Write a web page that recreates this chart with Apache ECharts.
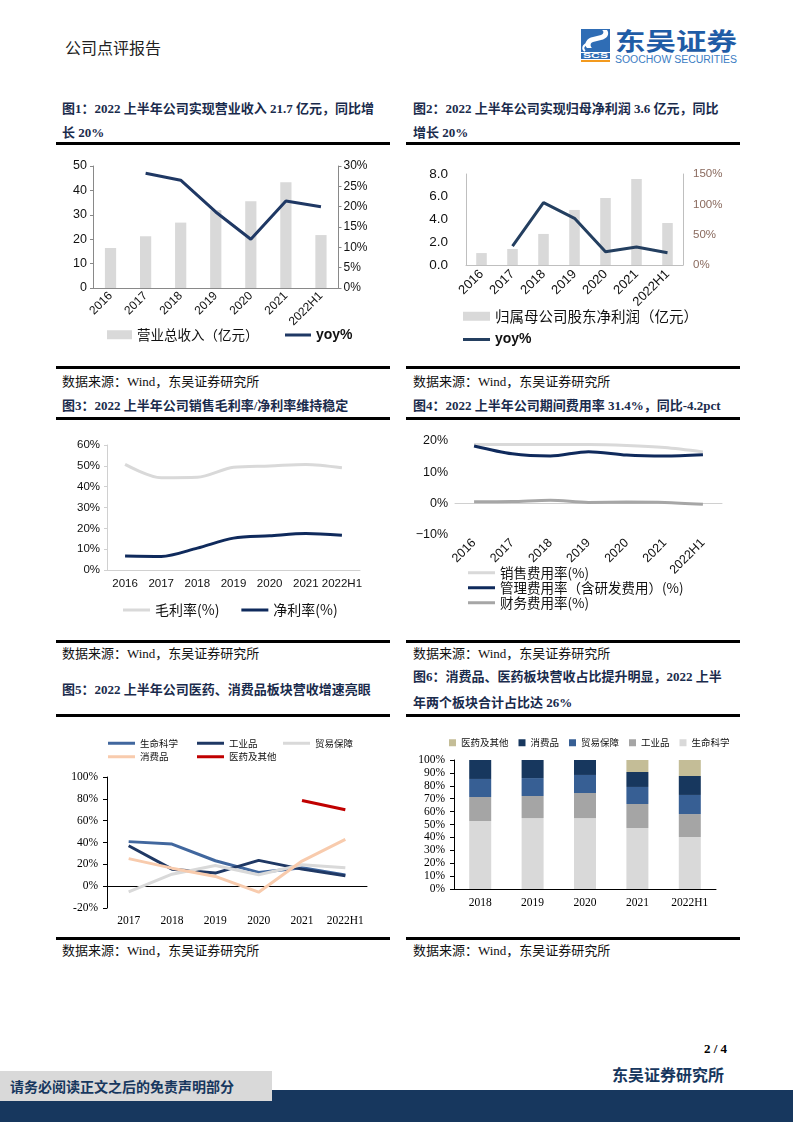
<!DOCTYPE html>
<html><head><meta charset="utf-8">
<script src="https://cdn.jsdelivr.net/npm/echarts@6/dist/echarts.min.js"></script>
<style>
html,body{margin:0;padding:0;}
body{width:793px;height:1122px;position:relative;background:#fff;overflow:hidden;font-family:"Liberation Serif","Noto Sans CJK SC",serif;}
.abs{position:absolute;white-space:nowrap;}
.title{position:absolute;white-space:nowrap;font-weight:bold;color:#1a2b4c;font-size:13px;line-height:24px;}
.src{position:absolute;white-space:nowrap;font-size:13px;color:#111;line-height:18px;}
.rule{position:absolute;height:2.5px;background:#000;}
.chart{position:absolute;}
</style></head><body>

<div class="abs" style="left:65px;top:37px;font-size:16px;line-height:20px;color:#222;font-family:'Noto Sans CJK SC';">公司点评报告</div>
<svg class="abs" style="left:581px;top:29px;" width="160" height="38" viewBox="0 0 160 38">
  <rect x="0" y="0" width="29" height="23" fill="#2f6db5"/>
  <path d="M6 19 C2 15 6 9 12 8 L20 6 C23 5 23 2 21 1 L26 1 C29 5 26 10 20 11 L12 13 C9 14 9 17 11 19 Z" fill="#fff"/>
  <path d="M4 22 C1 20 2 16 6 15" stroke="#fff" stroke-width="2" fill="none"/>
  <rect x="0" y="24" width="29" height="6" fill="#2f6db5"/>
  <text x="14.5" y="29.3" font-family="Liberation Sans" font-weight="bold" font-size="6.5" fill="#fff" text-anchor="middle" textLength="25" lengthAdjust="spacingAndGlyphs">SCS</text>
  <rect x="0" y="31" width="29" height="2" fill="#f39a1e"/>
  <text x="34" y="21" font-family="Noto Sans CJK SC" font-weight="bold" font-size="24" fill="#1f5ca6" textLength="122" lengthAdjust="spacingAndGlyphs">东吴证券</text>
  <text x="34" y="34" font-family="Liberation Sans" font-size="10" fill="#3b7cc3" textLength="122" lengthAdjust="spacingAndGlyphs">SOOCHOW SECURITIES</text>
</svg>

<div class="title" style="left:62px;top:97px;">图1：2022 上半年公司实现营业收入 21.7 亿元，同比增<br>长 20%</div>
<div class="title" style="left:413px;top:97px;">图2：2022 上半年公司实现归母净利润 3.6 亿元，同比<br>增长 20%</div>
<div class="rule" style="left:56px;top:142px;width:334px;"></div>
<div class="rule" style="left:406px;top:142px;width:334px;"></div>

<div class="rule" style="left:56px;top:366px;width:334px;"></div>
<div class="rule" style="left:406px;top:366px;width:334px;"></div>
<div class="src" style="left:62px;top:373px;">数据来源：Wind，东吴证券研究所</div>
<div class="src" style="left:413px;top:373px;">数据来源：Wind，东吴证券研究所</div>
<div class="title" style="left:62px;top:394px;">图3：2022 上半年公司销售毛利率/净利率维持稳定</div>
<div class="title" style="left:413px;top:394px;">图4：2022 上半年公司期间费用率 31.4%，同比-4.2pct</div>
<div class="rule" style="left:56px;top:417px;width:334px;"></div>
<div class="rule" style="left:406px;top:417px;width:334px;"></div>

<div class="rule" style="left:56px;top:640px;width:334px;"></div>
<div class="rule" style="left:406px;top:640px;width:334px;"></div>
<div class="src" style="left:62px;top:645px;">数据来源：Wind，东吴证券研究所</div>
<div class="src" style="left:413px;top:645px;">数据来源：Wind，东吴证券研究所</div>
<div class="title" style="left:62px;top:678px;">图5：2022 上半年公司医药、消费品板块营收增速亮眼</div>
<div class="title" style="left:413px;top:664px;line-height:26px;">图6：消费品、医药板块营收占比提升明显，2022 上半<br>年两个板块合计占比达 26%</div>
<div class="rule" style="left:56px;top:714px;width:334px;"></div>
<div class="rule" style="left:406px;top:714px;width:334px;"></div>

<div class="rule" style="left:56px;top:937px;width:334px;"></div>
<div class="rule" style="left:406px;top:937px;width:334px;"></div>
<div class="src" style="left:62px;top:942px;">数据来源：Wind，东吴证券研究所</div>
<div class="src" style="left:413px;top:942px;">数据来源：Wind，东吴证券研究所</div>

<div id="c1" class="chart" style="left:56px;top:145px;width:334px;height:221px;"></div>
<div id="c2" class="chart" style="left:406px;top:145px;width:334px;height:221px;"></div>
<div id="c3" class="chart" style="left:56px;top:420px;width:334px;height:220px;"></div>
<div id="c4" class="chart" style="left:406px;top:420px;width:334px;height:220px;"></div>
<div id="c5" class="chart" style="left:56px;top:717px;width:334px;height:220px;"></div>
<div id="c6" class="chart" style="left:406px;top:717px;width:334px;height:220px;"></div>

<div class="abs" style="left:704px;top:1040px;font-size:13px;line-height:18px;font-weight:bold;color:#000;">2 / 4</div>
<div class="abs" style="left:612px;top:1064px;font-size:16px;line-height:20px;font-weight:bold;color:#17375e;font-family:'Noto Sans CJK SC';">东吴证券研究所</div>
<div class="abs" style="left:0;top:1090px;width:793px;height:32px;background:#17375e;"></div>
<div class="abs" style="left:0;top:1071px;width:272px;height:30px;background:#d9d9d9;"></div>
<div class="abs" style="left:10px;top:1076px;font-size:14px;line-height:20px;font-weight:bold;color:#17375e;font-family:'Noto Sans CJK SC';">请务必阅读正文之后的免责声明部分</div>

<script>
// ---------- data ----------
const years7 = ['2016','2017','2018','2019','2020','2021','2022H1'];
// Fig1
const revenue = [16.4, 21.2, 26.8, 31.9, 35.6, 43.3, 21.7];
const revenueYoy = [null, 28.2, 26.5, 18.7, 12.0, 21.4, 20.0];
// Fig2
const netProfit = [1.05, 1.41, 2.73, 4.84, 5.89, 7.56, 3.69];
const netProfitYoy = [null, 31.3, 102.7, 76.9, 22.0, 29.7, 20.3];
// Fig3
const grossMargin = [50.7, 44.3, 44.5, 49.3, 49.9, 50.7, 49.1];
const netMargin = [6.7, 6.5, 10.5, 15.3, 16.4, 17.5, 16.7];
// Fig4
const salesExpRate = [18.9, 18.9, 18.9, 18.9, 18.6, 17.9, 16.5];
const mgmtExpRate = [18.4, 15.9, 15.2, 16.6, 15.5, 15.2, 15.6];
const finExpRate = [0.6, 0.7, 1.1, 0.4, 0.5, 0.4, -0.2];
// Fig5
const years6 = ['2017','2018','2019','2020','2021','2022H1'];
const growthLife = [40.8, 38.6, 23.3, 12.6, 16.9, 10.3];
const growthIndustrial = [37.0, 15.6, 12.0, 23.6, 15.6, 9.5];
const growthTrade = [-5.2, 11.0, 19.0, 10.4, 19.6, 16.9];
const growthConsumer = [25.2, 16.5, 8.9, -5.5, 23.0, 42.9];
const growthPharma = [null, null, null, null, 78.5, 70.0];
// Fig6
const years5 = ['2018','2019','2020','2021','2022H1'];
const shareLife = [52.7, 55.0, 55.0, 47.3, 40.3];
const shareIndustrial = [18.6, 17.1, 19.4, 18.6, 17.8];
const shareTrade = [14.0, 13.9, 14.0, 13.2, 14.8];
const shareConsumer = [14.7, 14.0, 11.6, 11.6, 14.7];
const sharePharma = [0, 0, 0, 9.3, 12.4];

// ---------- helpers ----------
function box(id){const el=document.getElementById(id);return {x:el.offsetLeft,y:el.offsetTop,w:el.offsetWidth,h:el.offsetHeight};}
function grid(b,l,t,r,btm){return {left:l-b.x,top:t-b.y,right:b.x+b.w-r,bottom:b.y+b.h-btm,containLabel:false};}
const SANS='Liberation Sans, Noto Sans CJK SC, sans-serif';
const SERIF='Liberation Serif, Noto Sans CJK SC, serif';
const CJK='Noto Sans CJK SC, sans-serif';
const navy='#1f3864';
const yoyRich={fontFamily:CJK,fontSize:13.5,color:'#111',rich:{e:{fontFamily:SANS,fontSize:14,fontWeight:'bold',color:'#111'}}};

// ---------- Fig1 ----------
(function(){
  const b=box('c1'); const ch=echarts.init(document.getElementById('c1'));
  const axc='#898989';
  ch.setOption({
    animation:false,
    textStyle:{fontFamily:SANS},
    grid:grid(b,93,166,338.5,288),
    legend:[
      {padding:0,left:107-b.x,top:328-b.y,itemWidth:25,itemHeight:9,icon:'rect',
        textStyle:{fontFamily:CJK,fontSize:13.5,color:'#111'},data:['营业总收入（亿元）']},
      {padding:0,left:285-b.x,top:328-b.y,itemWidth:26,itemHeight:3,icon:'rect',
        textStyle:yoyRich,formatter:()=>'{e|yoy%}',data:['yoy%']}
    ],
    xAxis:{type:'category',data:years7,
      axisLine:{lineStyle:{color:axc}},axisTick:{length:4,lineStyle:{color:axc}},
      axisLabel:{rotate:45,fontSize:12,color:'#111',margin:6,interval:0}},
    yAxis:[
      {type:'value',min:0,max:50,interval:10,axisLine:{show:true,lineStyle:{color:axc}},axisTick:{show:true,length:3,lineStyle:{color:axc}},
        splitLine:{show:false},axisLabel:{fontSize:12.5,color:'#111',margin:6}},
      {type:'value',min:0,max:30,interval:5,position:'right',axisLine:{show:true,lineStyle:{color:axc}},axisTick:{show:true,length:3,lineStyle:{color:axc}},
        splitLine:{show:false},axisLabel:{fontSize:12,color:'#111',margin:5,formatter:'{value}%'}}
    ],
    series:[
      {type:'bar',name:'营业总收入（亿元）',data:revenue,barWidth:'32%',itemStyle:{color:'#d9d9d9'}},
      {type:'line',name:'yoy%',yAxisIndex:1,data:revenueYoy,symbol:'none',lineStyle:{width:3,color:navy},itemStyle:{color:navy}}
    ]
  });
})();

// ---------- Fig2 ----------
(function(){
  const b=box('c2'); const ch=echarts.init(document.getElementById('c2'));
  const axc='#bfbfbf'; const lc='#243f60';
  ch.setOption({
    animation:false,
    textStyle:{fontFamily:SANS},
    grid:grid(b,466,174,683,265),
    legend:[
      {padding:0,left:463-b.x,top:309-b.y,itemWidth:27,itemHeight:9,icon:'rect',
        textStyle:{fontFamily:CJK,fontSize:14.5,color:'#111'},data:['归属母公司股东净利润（亿元）']},
      {padding:0,left:463-b.x,top:332.5-b.y,itemWidth:27,itemHeight:3,icon:'rect',
        textStyle:yoyRich,formatter:()=>'{e|yoy%}',data:['yoy%']}
    ],
    xAxis:{type:'category',data:years7,
      axisLine:{lineStyle:{color:axc}},axisTick:{length:4,lineStyle:{color:axc}},
      axisLabel:{rotate:45,fontSize:13,color:'#111',margin:7,interval:0}},
    yAxis:[
      {type:'value',min:0,max:8,interval:2,axisLine:{show:true,lineStyle:{color:axc}},axisTick:{show:false},
        splitLine:{show:false},axisLabel:{fontSize:13.5,color:'#111',margin:18,formatter:v=>v.toFixed(1)}},
      {type:'value',min:0,max:150,interval:50,position:'right',axisLine:{show:true,lineStyle:{color:axc}},axisTick:{show:false},
        splitLine:{show:false},axisLabel:{fontSize:11.5,color:'#8a6a5e',margin:10,formatter:'{value}%'}}
    ],
    series:[
      {type:'bar',name:'归属母公司股东净利润（亿元）',data:netProfit,barWidth:'34%',itemStyle:{color:'#d9d9d9'}},
      {type:'line',name:'yoy%',yAxisIndex:1,data:netProfitYoy,symbol:'none',lineStyle:{width:3,color:lc},itemStyle:{color:lc}}
    ]
  });
})();

// ---------- Fig3 ----------
(function(){
  const b=box('c3'); const ch=echarts.init(document.getElementById('c3'));
  const axc='#d0d0d0';
  ch.setOption({
    animation:false,
    textStyle:{fontFamily:SANS},
    grid:grid(b,107,445,360,570),
    legend:{padding:0,left:123-b.x,top:603-b.y,itemWidth:27,itemHeight:3,itemGap:22,icon:'rect',
      textStyle:{fontFamily:CJK,fontSize:14,color:'#111'},
      data:['毛利率(%)','净利率(%)']},
    xAxis:{type:'category',data:years7,
      axisLine:{lineStyle:{color:axc}},axisTick:{length:4,lineStyle:{color:axc}},
      axisLabel:{fontSize:11.5,color:'#111',margin:8,interval:0}},
    yAxis:{type:'value',min:0,max:60,interval:10,axisLine:{show:true,lineStyle:{color:axc}},axisTick:{show:true,length:3,lineStyle:{color:axc}},
      splitLine:{show:false},axisLabel:{fontSize:11.5,color:'#111',margin:7,formatter:'{value}%'}},
    series:[
      {type:'line',name:'毛利率(%)',data:grossMargin,symbol:'none',smooth:0.3,lineStyle:{width:3,color:'#d9d9d9'},itemStyle:{color:'#d9d9d9'}},
      {type:'line',name:'净利率(%)',data:netMargin,symbol:'none',smooth:0.3,lineStyle:{width:3,color:'#0f2a5c'},itemStyle:{color:'#0f2a5c'}}
    ]
  });
})();

// ---------- Fig4 ----------
(function(){
  const b=box('c4'); const ch=echarts.init(document.getElementById('c4'));
  const axc='#d0d0d0';
  ch.setOption({
    animation:false,
    textStyle:{fontFamily:SANS},
    grid:grid(b,455,441,722,535),
    legend:{orient:'vertical',padding:0,left:468-b.x,top:566-b.y,itemWidth:27,itemHeight:3,itemGap:1.5,icon:'rect',
      textStyle:{fontFamily:CJK,fontSize:13.5,color:'#111'},
      data:['销售费用率(%)','管理费用率（含研发费用）(%)','财务费用率(%)']},
    xAxis:{type:'category',data:years7,
      axisLine:{onZero:true,lineStyle:{color:axc}},axisTick:{length:4,lineStyle:{color:axc}},
      axisLabel:{rotate:45,fontSize:12.5,color:'#111',margin:6,interval:0}},
    yAxis:{type:'value',min:-10,max:20,interval:10,axisLine:{show:false},axisTick:{show:false},
      splitLine:{show:false},axisLabel:{fontSize:12.5,color:'#111',margin:7,formatter:v=>v<0?'\u2212'+Math.abs(v)+'%':v+'%'}},
    series:[
      {type:'line',name:'销售费用率(%)',data:salesExpRate,symbol:'none',smooth:0.3,lineStyle:{width:3,color:'#d9d9d9'},itemStyle:{color:'#d9d9d9'}},
      {type:'line',name:'管理费用率（含研发费用）(%)',data:mgmtExpRate,symbol:'none',smooth:0.3,lineStyle:{width:3,color:'#0f2a5c'},itemStyle:{color:'#0f2a5c'}},
      {type:'line',name:'财务费用率(%)',data:finExpRate,symbol:'none',smooth:0.3,lineStyle:{width:3,color:'#a6a6a6'},itemStyle:{color:'#a6a6a6'}}
    ]
  });
})();

// ---------- Fig5 ----------
(function(){
  const b=box('c5'); const ch=echarts.init(document.getElementById('c5'));
  const cols={'生命科学':'#41679e','工业品':'#1f3864','贸易保障':'#d9d9d9','消费品':'#f8cbad','医药及其他':'#c00000'};
  const lg=(names,x)=>({orient:'vertical',padding:0,left:x-b.x,top:738.5-b.y,itemWidth:27,itemHeight:3,itemGap:4,icon:'rect',
      textStyle:{fontFamily:CJK,fontSize:9.5,color:'#111'},data:names});
  const ser=(n,d)=>({type:'line',name:n,data:d,symbol:'none',lineStyle:{width:3,color:cols[n]},itemStyle:{color:cols[n]}});
  ch.setOption({
    animation:false,
    textStyle:{fontFamily:SERIF},
    grid:grid(b,107,777,367,908),
    legend:[lg(['生命科学','消费品'],108),lg(['工业品','医药及其他'],197),lg(['贸易保障'],283)],
    xAxis:{type:'category',data:years6,
      axisLine:{onZero:true,lineStyle:{color:'#000'}},axisTick:{length:4,lineStyle:{color:'#000'}},
      axisLabel:{fontSize:11.5,color:'#000',margin:7,interval:0}},
    yAxis:{type:'value',min:-20,max:100,interval:20,axisLine:{show:true,lineStyle:{color:'#000'}},axisTick:{show:true,length:4,lineStyle:{color:'#000'}},
      splitLine:{show:false},axisLabel:{fontSize:11.5,color:'#000',margin:9,formatter:'{value}%'}},
    series:[
      ser('生命科学',growthLife),ser('工业品',growthIndustrial),ser('贸易保障',growthTrade),
      ser('消费品',growthConsumer),ser('医药及其他',growthPharma)
    ]
  });
})();

// ---------- Fig6 ----------
(function(){
  const b=box('c6'); const ch=echarts.init(document.getElementById('c6'));
  const cols={'生命科学':'#d9d9d9','工业品':'#a5a5a5','贸易保障':'#375f94','消费品':'#17375e','医药及其他':'#c4bd97'};
  const ser=(n,d)=>({type:'bar',name:n,stack:'total',data:d,barWidth:'42%',itemStyle:{color:cols[n]}});
  ch.setOption({
    animation:false,
    textStyle:{fontFamily:SERIF},
    grid:grid(b,454,760,716,889),
    legend:{padding:0,left:449-b.x,top:738-b.y,itemWidth:7,itemHeight:7,itemGap:10,icon:'rect',
      textStyle:{fontFamily:CJK,fontSize:9.5,color:'#111'},
      data:['医药及其他','消费品','贸易保障','工业品','生命科学']},
    xAxis:{type:'category',data:years5,
      axisLine:{lineStyle:{color:'#000'}},axisTick:{inside:true,length:4,lineStyle:{color:'#000'}},
      axisLabel:{fontSize:11.5,color:'#000',margin:8,interval:0}},
    yAxis:{type:'value',min:0,max:100,interval:10,axisLine:{show:true,lineStyle:{color:'#000'}},axisTick:{show:true,length:4,lineStyle:{color:'#000'}},
      splitLine:{show:false},axisLabel:{fontSize:11.5,color:'#000',margin:9,formatter:'{value}%'}},
    series:[
      ser('生命科学',shareLife),ser('工业品',shareIndustrial),ser('贸易保障',shareTrade),
      ser('消费品',shareConsumer),ser('医药及其他',sharePharma)
    ]
  });
})();
</script>
</body></html>
